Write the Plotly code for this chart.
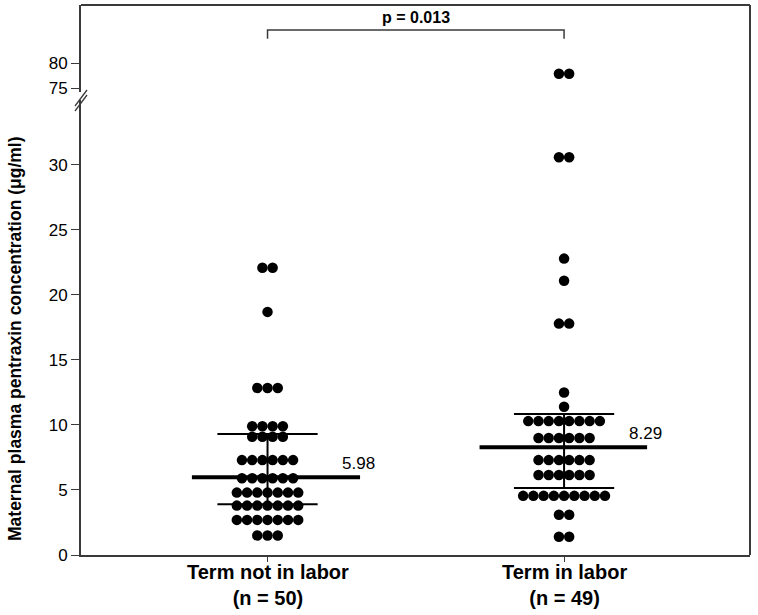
import plotly.graph_objects as go

# ---------------- data ----------------
groups = ["Term not in labor", "Term in labor"]
group_n = [50, 49]
group_pos = [1, 2]

values_not_in_labor = [
    22.1, 22.1,
    18.7,
    12.85, 12.85, 12.85,
    9.9, 9.9, 9.9, 9.9,
    9.1, 9.1, 9.1, 9.1,
    7.3, 7.3, 7.3, 7.3, 7.3, 7.3,
    5.9, 5.9, 5.9, 5.9, 5.9, 5.9,
    4.8, 4.8, 4.8, 4.8, 4.8, 4.8, 4.8,
    3.8, 3.8, 3.8, 3.8, 3.8, 3.8, 3.8,
    2.7, 2.7, 2.7, 2.7, 2.7, 2.7, 2.7,
    1.5, 1.5, 1.5,
]
values_in_labor = [
    77.9, 77.9,
    30.6, 30.6,
    22.8,
    21.1,
    17.8, 17.8,
    12.5,
    11.4,
    10.3, 10.3, 10.3, 10.3, 10.3, 10.3, 10.3, 10.3,
    9.0, 9.0, 9.0, 9.0, 9.0, 9.0,
    7.3, 7.3, 7.3, 7.3, 7.3, 7.3,
    6.15, 6.15, 6.15, 6.15, 6.15, 6.15,
    4.55, 4.55, 4.55, 4.55, 4.55, 4.55, 4.55, 4.55, 4.55,
    3.1, 3.1,
    1.4, 1.4,
]
medians = [5.98, 8.29]
q1s = [3.9, 5.15]
q3s = [9.3, 10.85]
p_text = "p = 0.013"

lower_ticks = [0, 5, 10, 15, 20, 25, 30]
upper_ticks = [75, 80]

# ---------------- layout constants ----------------
FONT = "Arial, Liberation Sans, sans-serif"
DARK = "#3a3a3a"
DOT_STEP = 0.0345          # horizontal spacing between dots (x units)
BREAK_AT = 50              # values above go to the upper axis segment
LOW_DOMAIN = [0, 0.8273]
UP_DOMAIN = [0.8418, 1]
LOW_RANGE = [0, 35]
UP_RANGE = [74.26, 91.66]
MED_EXT = [(-0.255, 0.312), (-0.285, 0.28)]
Q_HALF = 0.169


def swarm(vals, center):
    xs = []
    counts = {}
    for v in vals:
        counts[v] = counts.get(v, 0) + 1
    seen = {}
    for v in vals:
        n = counts[v]
        i = seen.get(v, 0)
        seen[v] = i + 1
        xs.append(center + (i - (n - 1) / 2) * DOT_STEP)
    return xs


fig = go.Figure()
for vals, pos in zip([values_not_in_labor, values_in_labor], group_pos):
    xs = swarm(vals, pos)
    lx = [x for x, v in zip(xs, vals) if v <= BREAK_AT]
    ly = [v for v in vals if v <= BREAK_AT]
    ux = [x for x, v in zip(xs, vals) if v > BREAK_AT]
    uy = [v for v in vals if v > BREAK_AT]
    fig.add_trace(go.Scatter(x=lx, y=ly, mode="markers", yaxis="y",
                             marker=dict(color="black", size=10.5),
                             showlegend=False, hoverinfo="y"))
    if ux:
        fig.add_trace(go.Scatter(x=ux, y=uy, mode="markers", yaxis="y2",
                                 marker=dict(color="black", size=10.5),
                                 showlegend=False, hoverinfo="y"))

shapes = []
annotations = []
for k, pos in enumerate(group_pos):
    # median line
    shapes.append(dict(type="line", xref="x", yref="y",
                       x0=pos + MED_EXT[k][0], x1=pos + MED_EXT[k][1],
                       y0=medians[k], y1=medians[k],
                       line=dict(color="black", width=4)))
    # quartile lines
    for q in (q1s[k], q3s[k]):
        shapes.append(dict(type="line", xref="x", yref="y",
                           x0=pos - Q_HALF, x1=pos + Q_HALF, y0=q, y1=q,
                           line=dict(color="black", width=2)))
    shapes.append(dict(type="line", xref="x", yref="y",
                       x0=pos, x1=pos, y0=q1s[k], y1=q3s[k],
                       line=dict(color="black", width=2)))
    annotations.append(dict(x=pos + MED_EXT[k][1] - 0.005, y=medians[k],
                            xref="x", yref="y", text=f"{medians[k]:.2f}",
                            showarrow=False, yanchor="bottom", xanchor="center",
                            yshift=2,
                            font=dict(family=FONT, size=17, color="black")))
    # category labels under the axis
    annotations.append(dict(x=pos, y=0, xref="x", yref="paper",
                            text=f"<b>{groups[k]}</b><br><b>(n = {group_n[k]})</b>",
                            showarrow=False, yanchor="top", xanchor="center",
                            yshift=-4,
                            font=dict(family=FONT, size=20, color="black")))

# p bracket
shapes.append(dict(type="path", xref="x", yref="y2",
                   path=f"M {group_pos[0]},84.9 L {group_pos[0]},86.66 "
                        f"L {group_pos[1]},86.66 L {group_pos[1]},84.9",
                   line=dict(color=DARK, width=1.5)))
annotations.append(dict(x=sum(group_pos) / 2, y=86.66, xref="x", yref="y2",
                        text=f"<b>{p_text}</b>", showarrow=False,
                        yanchor="bottom", yshift=2,
                        font=dict(family=FONT, size=16, color="black")))

# frame: top and right
shapes.append(dict(type="line", xref="paper", yref="paper", x0=0, x1=1, y0=1, y1=1,
                   line=dict(color=DARK, width=2)))
shapes.append(dict(type="line", xref="paper", yref="paper", x0=1, x1=1, y0=0, y1=1,
                   line=dict(color=DARK, width=2)))
# axis break marks "//"
W, H = 669.0, 550.0
for dy in (0, 5):
    shapes.append(dict(type="line", xref="paper", yref="paper",
                       x0=-6 / W, x1=6 / W,
                       y0=(449 + dy - 5) / H, y1=(465 + dy - 5) / H,
                       line=dict(color=DARK, width=1.3)))

annotations.append(dict(x=-66 / W, y=(555 - 339) / H, xref="paper", yref="paper",
                        text="<b>Maternal plasma pentraxin concentration (μg/ml)</b>",
                        textangle=-90, showarrow=False,
                        xanchor="center", yanchor="middle",
                        font=dict(family=FONT, size=17.5, color="black")))

fig.update_layout(
    width=758, height=615,
    margin=dict(l=81, r=8, t=5, b=60, autoexpand=False),
    paper_bgcolor="white", plot_bgcolor="white",
    font=dict(family=FONT, size=17, color="black"),
    xaxis=dict(range=[0.371, 2.627], tickvals=group_pos,
               ticktext=["", ""],
               showgrid=False, zeroline=False, showline=True, linecolor=DARK,
               linewidth=2, ticks="outside", ticklen=5, tickwidth=1.3,
               tickcolor=DARK, automargin=False),
    yaxis=dict(domain=LOW_DOMAIN, range=LOW_RANGE, tickvals=lower_ticks,
               showgrid=False, zeroline=False, showline=True, linecolor=DARK,
               linewidth=2, ticks="outside", ticklen=8, tickwidth=1.3,
               tickcolor=DARK, tickfont=dict(size=17), automargin=False),
    yaxis2=dict(domain=UP_DOMAIN, range=UP_RANGE, tickvals=upper_ticks,
                anchor="x", showgrid=False, zeroline=False, showline=True,
                linecolor=DARK, linewidth=2, ticks="outside", ticklen=8,
                tickwidth=1.3, tickcolor=DARK, tickfont=dict(size=17),
                automargin=False),
    shapes=shapes,
    annotations=annotations,
)

fig.write_html("out.html", config={"displayModeBar": False},
               post_script="document.body.style.margin='0px';"
                           "document.body.style.overflow='hidden';")
